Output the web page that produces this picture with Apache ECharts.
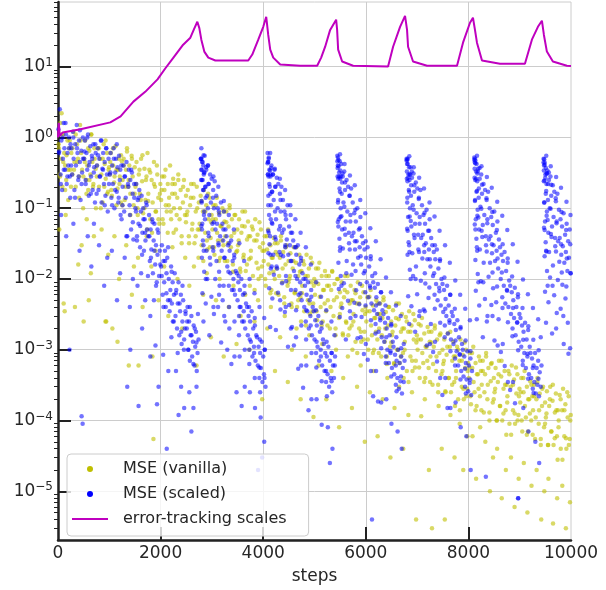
<!DOCTYPE html>
<html>
<head>
<meta charset="utf-8">
<script src="https://cdn.jsdelivr.net/npm/echarts@6/dist/echarts.min.js"></script>
<style>
  html, body { margin: 0; padding: 0; background: #ffffff; }
  #chart { width: 606px; height: 590px; }
</style>
</head>
<body>
<div id="chart"></div>
<script>
// Training steps vs. loss, log scale
const xTickValues = [0, 2000, 4000, 6000, 8000, 10000];
const yTickExponents = [-5, -4, -3, -2, -1, 0, 1];
const minorMultipliers = [2, 3, 4, 5, 6, 7, 8, 9];

// [step, MSE] for the plain model
const vanillaMse = [
[12,8e-1],[30,3e-1],[45,1.6],[60,5e-1],[85,2e-1],[100,1.1],[120,6e-1],[140,4e-1],[160,2.5e-1],[185,9e-1],[200,1.3e-1],[220,7e-1],[240,3.5e-1],[25,5e-2],[150,8e-2],[70,2.2],
[260,6e-1],[280,3e-1],[300,1.2],[320,4.5e-1],[345,2e-1],[370,8e-1],[390,5e-1],[410,2.8e-1],[430,1.5],[450,6e-1],[470,3.5e-1],[490,1e-1],[330,4e-3],[460,3e-2],[395,1.6e-2],
[510,5e-1],[530,9e-1],[550,2.5e-1],[570,4e-1],[590,1.8e-1],[610,6.5e-1],[630,3e-1],[650,1.1],[670,4.5e-1],[690,2.2e-1],[710,7e-1],[735,3.6e-1],[560,7e-2],[640,1.2e-2],[700,4e-2],
[760,4e-1],[780,7e-1],[800,2e-1],[820,5e-1],[845,3e-1],[870,1.2e-1],[890,8e-1],[910,4.2e-1],[930,2.6e-1],[955,6e-1],[975,1.7e-1],[995,3.8e-1],[850,5e-2],[940,2.5e-3],[980,2.2e-2],
[1010,3e-1],[1030,6e-1],[1050,1.5e-1],[1075,4e-1],[1095,2.3e-1],[1120,7.5e-1],[1140,3.5e-1],[1160,1.9e-1],[1185,5e-1],[1205,2.8e-1],[1225,1.2e-1],[1245,4.6e-1],[1100,4e-2],[1190,1e-2],[1060,2e-3],
[1260,2.5e-1],[1280,5e-1],[1300,1.3e-1],[1325,3.5e-1],[1345,7e-1],[1370,2e-1],[1390,4e-1],[1410,1.6e-1],[1435,5.5e-1],[1455,2.8e-1],[1475,1.1e-1],[1495,3.8e-1],[1330,3e-2],[1440,6e-3],[1480,1.5e-2],
[1510,2e-1],[1530,4.5e-1],[1550,1e-1],[1575,3e-1],[1595,1.6e-1],[1620,5e-1],[1640,2.4e-1],[1660,8.5e-2],[1685,3.6e-1],[1705,1.3e-1],[1725,2.8e-1],[1745,6e-1],[1560,2e-2],[1650,4e-3],[1730,4e-2],
[1760,1.6e-1],[1780,3.5e-1],[1800,7e-2],[1825,2.5e-1],[1845,1.2e-1],[1870,4.5e-1],[1890,2e-1],[1910,9e-2],[1935,3e-1],[1955,1.4e-1],[1975,6e-2],[1995,2.2e-1],[1820,1.5e-2],[1900,2.5e-2],[1960,5e-3],
[2010,1.3e-1],[2030,2.8e-1],[2055,6e-2],[2075,1.8e-1],[2095,3.5e-1],[2120,9e-2],[2140,2.2e-1],[2160,1.1e-1],[2185,4e-1],[2205,7e-2],[2225,1.6e-1],[2245,2.6e-1],[2070,1.5e-2],[2150,3e-3],[2230,2.8e-2],
[2260,1e-1],[2280,2.2e-1],[2300,5e-2],[2325,1.4e-1],[2345,3e-1],[2370,7e-2],[2390,1.8e-1],[2410,4e-2],[2435,1.2e-1],[2455,2.5e-1],[2475,8e-2],[2495,1.5e-1],[2330,1e-2],[2420,2e-3],[2480,2e-2],
[2510,8e-2],[2530,1.8e-1],[2550,4e-2],[2575,1.1e-1],[2595,2.2e-1],[2620,6e-2],[2640,1.4e-1],[2660,3.2e-2],[2685,9e-2],[2705,2e-1],[2725,5e-2],[2745,1.2e-1],[2560,8e-3],[2650,1.5e-2],[2700,6e-4],
[2760,6e-2],[2780,1.5e-1],[2800,3e-2],[2825,9e-2],[2845,1.8e-1],[2870,4.5e-2],[2890,1.1e-1],[2910,2.6e-2],[2935,7e-2],[2955,1.4e-1],[2975,3.8e-2],[2995,8e-2],[2830,6e-3],[2900,1.2e-2],[2980,1.5e-3],
[3010,5e-2],[3030,1.1e-1],[3050,2.2e-2],[3075,7e-2],[3095,1.4e-1],[3120,3.5e-2],[3140,8.5e-2],[3160,2e-2],[3185,5.5e-2],[3205,1e-1],[3225,3e-2],[3245,6.5e-2],[3080,5e-3],[3150,1e-2],[3230,8e-4],
[3260,4e-2],[3280,9e-2],[3300,1.8e-2],[3325,5.5e-2],[3345,1.1e-1],[3370,2.8e-2],[3390,7e-2],[3410,1.6e-2],[3435,4.5e-2],[3455,8e-2],[3475,2.4e-2],[3495,5e-2],[3330,4e-3],[3420,8e-3],[3480,1.2e-3],
[3510,3e-2],[3530,7e-2],[3550,1.4e-2],[3575,4.5e-2],[3595,9e-2],[3620,2.2e-2],[3640,5.5e-2],[3660,1.3e-2],[3685,3.6e-2],[3705,6.5e-2],[3725,1.9e-2],[3745,4e-2],[3560,3e-3],[3650,6e-3],[3730,1e-3],
[3760,2.5e-2],[3780,5.5e-2],[3800,1.1e-2],[3825,3.5e-2],[3845,7e-2],[3870,1.7e-2],[3890,4.2e-2],[3910,1e-2],[3935,2.8e-2],[3955,5e-2],[3975,1.5e-2],[3995,3.2e-2],[3830,2.5e-3],[3900,5e-3],[3980,2e-4],
[4010,1.8e-2],[4030,4e-2],[4050,8e-3],[4075,2.6e-2],[4095,5e-2],[4120,1.2e-2],[4140,3e-2],[4160,7e-3],[4185,2e-2],[4205,3.8e-2],[4225,1e-2],[4245,2.4e-2],[4080,2e-3],[4150,4e-3],[4230,5e-4],
[4260,1.4e-2],[4280,3.2e-2],[4300,6e-3],[4325,2e-2],[4345,4e-2],[4370,9e-3],[4390,2.4e-2],[4410,5.5e-3],[4435,1.6e-2],[4455,3e-2],[4475,8e-3],[4495,1.8e-2],[4330,1.5e-3],[4420,3e-3],[4480,3.5e-4],
[4510,1e-2],[4530,2.3e-2],[4550,4.5e-3],[4575,1.4e-2],[4595,2.8e-2],[4620,6.5e-3],[4640,1.7e-2],[4660,4e-3],[4685,1.1e-2],[4705,2.2e-2],[4725,5.5e-3],[4745,1.3e-2],[4560,1e-3],[4650,2e-3],[4730,2e-4],
[4760,8e-3],[4780,1.8e-2],[4800,3.5e-3],[4825,1.1e-2],[4845,2.2e-2],[4870,5e-3],[4890,1.4e-2],[4910,3.2e-3],[4935,9e-3],[4955,1.7e-2],[4975,4.5e-3],[4995,1e-2],[4830,8e-4],[4900,1.6e-3],[4980,1.12e-4],
[5010,6e-3],[5030,1.4e-2],[5050,2.6e-3],[5075,8.5e-3],[5095,1.7e-2],[5120,4e-3],[5140,1.1e-2],[5160,2.5e-3],[5185,7e-3],[5205,1.3e-2],[5225,3.5e-3],[5245,8e-3],[5080,6e-4],[5150,1.2e-3],[5230,2e-4],
[5260,5e-3],[5280,1.1e-2],[5300,2e-3],[5325,7e-3],[5345,1.3e-2],[5370,3e-3],[5390,8.5e-3],[5410,2e-3],[5435,5.5e-3],[5455,1e-2],[5475,2.8e-3],[5495,6.5e-3],[5330,5e-4],[5420,1e-3],[5480,8e-5],
[5510,4e-3],[5530,9e-3],[5550,1.7e-3],[5575,5.5e-3],[5595,1.1e-2],[5620,2.4e-3],[5640,6.5e-3],[5660,1.6e-3],[5685,4.5e-3],[5705,8e-3],[5725,2.2e-3],[5745,5e-3],[5560,4e-4],[5650,8e-4],[5730,1.5e-4],
[5760,3.2e-3],[5780,7e-3],[5800,1.3e-3],[5825,4.5e-3],[5845,9e-3],[5870,2e-3],[5890,5.5e-3],[5910,1.3e-3],[5935,3.6e-3],[5955,6.5e-3],[5975,1.8e-3],[5995,4e-3],[5830,3e-4],[5900,6e-4],[5980,5e-5],
[6010,2.5e-3],[6030,5.5e-3],[6050,1e-3],[6075,3.5e-3],[6095,7e-3],[6120,1.6e-3],[6140,4.2e-3],[6160,1e-3],[6185,2.8e-3],[6205,5e-3],[6225,1.4e-3],[6245,3.2e-3],[6080,2.5e-4],[6150,5e-4],[6230,6e-5],
[6260,2e-3],[6280,4.5e-3],[6300,8e-4],[6325,2.8e-3],[6345,5.5e-3],[6370,1.3e-3],[6390,3.4e-3],[6410,8e-4],[6435,2.2e-3],[6455,4e-3],[6475,1.1e-3],[6495,2.5e-3],[6330,2e-4],[6420,4e-4],[6480,3e-5],
[6510,1.6e-3],[6530,3.6e-3],[6550,6.5e-4],[6575,2.2e-3],[6595,4.5e-3],[6620,1e-3],[6640,2.7e-3],[6660,6.5e-4],[6685,1.8e-3],[6705,3.2e-3],[6725,9e-4],[6745,2e-3],[6560,1.5e-4],[6650,3e-4],[6730,4e-5],
[6760,1.3e-3],[6780,2.9e-3],[6800,5e-4],[6825,1.8e-3],[6845,3.5e-3],[6870,8e-4],[6890,2.2e-3],[6910,5e-4],[6935,1.4e-3],[6955,2.6e-3],[6975,7e-4],[6995,1.6e-3],[6830,1.2e-4],[6900,2.5e-4],[6980,4e-6],
[7010,1e-3],[7030,2.3e-3],[7050,4e-4],[7075,1.4e-3],[7095,2.8e-3],[7120,6.5e-4],[7140,1.7e-3],[7160,4e-4],[7185,1.1e-3],[7205,2.1e-3],[7225,5.5e-4],[7245,1.3e-3],[7080,1.15e-4],[7150,2e-4],[7230,2e-5],
[7260,8e-4],[7280,1.8e-3],[7300,3.2e-4],[7325,1.1e-3],[7345,2.2e-3],[7370,5e-4],[7390,1.4e-3],[7410,3.2e-4],[7435,9e-4],[7455,1.7e-3],[7475,4.5e-4],[7495,1e-3],[7290,3e-6],[7420,1.6e-4],[7480,4e-5],
[7510,6.3e-4],[7530,1.4e-3],[7550,2.6e-4],[7575,8.5e-4],[7595,1.7e-3],[7620,4e-4],[7640,1.1e-3],[7660,2.5e-4],[7685,7e-4],[7705,1.3e-3],[7725,3.5e-4],[7745,8e-4],[7540,4e-6],[7650,1.2e-4],[7730,3e-5],
[7760,5e-4],[7780,1.1e-3],[7800,2e-4],[7825,7e-4],[7845,1.4e-3],[7870,3e-4],[7890,8.5e-4],[7910,2e-4],[7935,5.5e-4],[7955,1e-3],[7975,2.8e-4],[7995,6.5e-4],[7830,9e-5],[7900,2e-5],[7980,6e-5],
[8010,4e-4],[8030,9e-4],[8050,1.7e-4],[8075,5.5e-4],[8095,1.1e-3],[8120,2.5e-4],[8140,6.5e-4],[8160,1.6e-4],[8185,4.5e-4],[8205,8e-4],[8225,2.2e-4],[8245,5e-4],[8080,6e-5],[8150,1.5e-5],[8230,8e-5],
[8260,3.2e-4],[8280,7e-4],[8300,1.3e-4],[8325,4.5e-4],[8345,9e-4],[8370,2e-4],[8390,5.5e-4],[8410,1.3e-4],[8435,3.6e-4],[8455,6.5e-4],[8475,1.8e-4],[8495,4e-4],[8330,5e-5],[8420,1e-5],[8480,3e-5],
[8510,2.5e-4],[8530,5.5e-4],[8550,1e-4],[8575,3.5e-4],[8595,7e-4],[8620,1.6e-4],[8640,4.2e-4],[8660,1e-4],[8685,2.8e-4],[8705,5e-4],[8725,1.4e-4],[8745,3.2e-4],[8560,4e-5],[8650,8e-6],[8730,2e-5],
[8760,2.2e-4],[8780,5e-4],[8800,9e-5],[8825,3e-4],[8845,6e-4],[8870,1.4e-4],[8890,3.8e-4],[8910,9e-5],[8935,2.4e-4],[8955,4.5e-4],[8975,1.2e-4],[8995,2.8e-4],[8830,3e-5],[8900,6e-6],[8980,1.5e-5],
[9010,1.8e-4],[9030,4e-4],[9050,7e-5],[9075,2.5e-4],[9095,5e-4],[9120,1.1e-4],[9140,3e-4],[9160,7e-5],[9185,2e-4],[9205,3.6e-4],[9225,1e-4],[9245,2.2e-4],[9080,2.5e-5],[9150,5e-6],[9230,1.2e-5],
[9260,1.4e-4],[9280,3.2e-4],[9300,5.5e-5],[9325,2e-4],[9345,4e-4],[9370,9e-5],[9390,2.4e-4],[9410,5.5e-5],[9435,1.6e-4],[9455,3e-4],[9475,8e-5],[9495,1.8e-4],[9330,2e-5],[9420,4e-6],[9480,1e-5],
[9510,1.1e-4],[9530,2.6e-4],[9550,4.5e-5],[9575,1.6e-4],[9595,3e-4],[9620,7e-5],[9640,1.9e-4],[9660,4.5e-5],[9685,1.3e-4],[9705,2.4e-4],[9725,6e-5],[9745,1.4e-4],[9560,1.5e-5],[9650,3.5e-6],[9730,8e-6],
[9760,1e-4],[9780,2.3e-4],[9800,4e-5],[9825,1.4e-4],[9845,2.8e-4],[9870,6e-5],[9890,1.7e-4],[9910,4e-5],[9935,1.1e-4],[9955,2.2e-4],[9975,5.5e-5],[9995,1.2e-4],[9830,1.2e-5],[9900,3e-6],[9980,7e-6],
[110,4.5e-3],[130,3.5e-3],[500,2.5e-3],[600,5e-3],[925,2.5e-3],[1160,1.3e-3],[1380,6e-4],[1570,6e-4],[1840,8e-4],[1860,5.5e-5],
[18,7e-1],[39,2.8e-1],[71,1.1],[102,4.5e-1],[139,1.8e-1],[166,5.6e-1],[198,3.5e-1],[228,9e-1],
[253,2e-1],[281,7e-1],[312,3.5e-1],[345,1.1],[378,4.5e-1],[411,1.4e-1],[440,9e-1],[494,2.8e-1],
[522,4.5e-1],[555,1.6e-1],[588,7e-1],[613,2.5e-1],[646,1.1],[683,2e-1],[715,5e-1],[739,1e-1],
[757,2.8e-1],[798,7e-1],[833,1e-1],[871,5e-1],[902,2e-1],[927,9e-1],[959,1.6e-1],[986,3.5e-1],
[1018,4.5e-1],[1039,1.8e-1],[1071,7e-1],[1102,2.8e-1],[1139,1.1e-1],[1166,3.5e-1],[1198,2.2e-1],[1228,5.6e-1],
[1253,1.1e-1],[1281,4e-1],[1312,2e-1],[1345,6.3e-1],[1378,2.5e-1],[1411,8e-2],[1440,5e-1],[1494,1.6e-1],
[1522,2.2e-1],[1555,8e-2],[1588,3.5e-1],[1613,1.3e-1],[1646,5.6e-1],[1683,1e-1],[1715,2.5e-1],[1739,5e-2],
[1757,1.26e-1],[1798,3.2e-1],[1833,4.5e-2],[1871,2.2e-1],[1902,9e-2],[1927,4e-1],[1959,7e-2],[1986,1.6e-1],
[2018,1.8e-1],[2039,7e-2],[2071,2.8e-1],[2102,1.1e-1],[2139,4.5e-2],[2166,1.4e-1],[2198,9e-2],[2228,2.2e-1],
[2253,4.5e-2],[2281,1.6e-1],[2312,8e-2],[2345,2.5e-1],[2378,1e-1],[2411,3.2e-2],[2440,2e-1],[2494,6.3e-2],
[2522,9e-2],[2555,3.2e-2],[2588,1.4e-1],[2613,5e-2],[2646,2.2e-1],[2683,4e-2],[2715,1e-1],[2739,2e-2],
[2757,5e-2],[2798,1.26e-1],[2833,1.8e-2],[2871,9e-2],[2902,3.5e-2],[2927,1.6e-1],[2959,2.8e-2],[2986,6.3e-2],
[3018,7e-2],[3039,2.8e-2],[3071,1.1e-1],[3102,4.5e-2],[3139,1.8e-2],[3166,5.6e-2],[3198,3.5e-2],[3228,9e-2],
[3253,1.8e-2],[3281,6.3e-2],[3312,3.2e-2],[3345,1e-1],[3378,4e-2],[3411,1.26e-2],[3440,8e-2],[3494,2.5e-2],
[3522,3.5e-2],[3555,1.26e-2],[3588,5.6e-2],[3613,2e-2],[3646,9e-2],[3683,1.6e-2],[3715,4e-2],[3739,8e-3],
[3757,2e-2],[3798,5e-2],[3833,7e-3],[3871,3.5e-2],[3902,1.4e-2],[3927,6.3e-2],[3959,1.1e-2],[3986,2.5e-2],
[4018,2.5e-2],[4039,1e-2],[4071,4e-2],[4102,1.6e-2],[4139,6.3e-3],[4166,2e-2],[4198,1.26e-2],[4228,3.2e-2],
[4253,6.3e-3],[4281,2.2e-2],[4312,1.1e-2],[4345,3.5e-2],[4378,1.4e-2],[4411,4.5e-3],[4440,2.8e-2],[4494,9e-3],
[4522,1.1e-2],[4555,4e-3],[4588,1.8e-2],[4613,6.3e-3],[4646,2.8e-2],[4683,5e-3],[4715,1.26e-2],[4739,2.5e-3],
[4757,6.3e-3],[4798,1.6e-2],[4833,2.2e-3],[4871,1.1e-2],[4902,4.5e-3],[4927,2e-2],[4959,3.5e-3],[4986,8e-3],
[5018,9e-3],[5039,3.5e-3],[5071,1.4e-2],[5102,5.6e-3],[5139,2.2e-3],[5166,7e-3],[5198,4.5e-3],[5228,1.1e-2],
[5253,2.2e-3],[5281,8e-3],[5312,4e-3],[5345,1.26e-2],[5378,5e-3],[5411,1.6e-3],[5440,1e-2],[5494,3.2e-3],
[5522,4.5e-3],[5555,1.6e-3],[5588,7e-3],[5613,2.5e-3],[5646,1.1e-2],[5683,2e-3],[5715,5e-3],[5739,1e-3],
[5757,2.5e-3],[5798,6.3e-3],[5833,9e-4],[5871,4.5e-3],[5902,1.8e-3],[5927,8e-3],[5959,1.4e-3],[5986,3.2e-3],
[6018,3.5e-3],[6039,1.4e-3],[6071,5.6e-3],[6102,2.2e-3],[6139,9e-4],[6166,2.8e-3],[6198,1.8e-3],[6228,4.5e-3],
[6253,9e-4],[6281,3.2e-3],[6312,1.6e-3],[6345,5e-3],[6378,2e-3],[6411,6.3e-4],[6440,4e-3],[6494,1.26e-3],
[6522,1.8e-3],[6555,6.3e-4],[6588,2.8e-3],[6613,1e-3],[6646,4.5e-3],[6683,8e-4],[6715,2e-3],[6739,4e-4],
[6757,1e-3],[6798,2.5e-3],[6833,3.5e-4],[6871,1.8e-3],[6902,7e-4],[6927,3.2e-3],[6959,5.6e-4],[6986,1.26e-3],
[7018,1.4e-3],[7039,5.6e-4],[7071,2.2e-3],[7102,9e-4],[7139,3.5e-4],[7166,1.1e-3],[7198,7e-4],[7228,1.8e-3],
[7253,3.5e-4],[7281,1.26e-3],[7312,6.3e-4],[7345,2e-3],[7378,8e-4],[7411,2.5e-4],[7440,1.6e-3],[7494,5e-4],
[7522,7e-4],[7555,2.5e-4],[7588,1.1e-3],[7613,4e-4],[7646,1.8e-3],[7683,3.2e-4],[7715,8e-4],[7739,1.6e-4],
[7757,4e-4],[7798,1e-3],[7833,1.4e-4],[7871,7e-4],[7902,2.8e-4],[7927,1.26e-3],[7959,2.2e-4],[7986,5e-4],
[8018,5.6e-4],[8039,2.2e-4],[8071,9e-4],[8102,3.5e-4],[8139,1.4e-4],[8166,4.5e-4],[8198,2.8e-4],[8228,7e-4],
[8253,1.4e-4],[8281,5e-4],[8312,2.5e-4],[8345,8e-4],[8378,3.2e-4],[8411,1e-4],[8440,6.3e-4],[8494,2e-4],
[8522,2.8e-4],[8555,1e-4],[8588,4.5e-4],[8613,1.6e-4],[8646,7e-4],[8683,1.26e-4],[8715,3.2e-4],[8739,6.3e-5],
[8757,1.8e-4],[8798,4.5e-4],[8833,6.3e-5],[8871,3.2e-4],[8902,1.26e-4],[8927,5.6e-4],[8959,1e-4],[8986,2.2e-4],
[9018,2.5e-4],[9039,1e-4],[9071,4e-4],[9102,1.6e-4],[9139,6.3e-5],[9166,2e-4],[9198,1.26e-4],[9228,3.2e-4],
[9253,6.3e-5],[9281,2.2e-4],[9312,1.1e-4],[9345,3.5e-4],[9378,1.4e-4],[9411,4.5e-5],[9440,2.8e-4],[9494,9e-5],
[9522,1.26e-4],[9555,4.5e-5],[9588,2e-4],[9613,7e-5],[9646,3.2e-4],[9683,5.6e-5],[9715,1.4e-4],[9739,2.8e-5],
[9757,8e-5],[9798,2e-4],[9833,2.8e-5],[9871,1.4e-4],[9902,5.6e-5],[9927,2.5e-4],[9959,4.5e-5],[9986,1e-4]
];

// [step, MSE] for the model trained with error-tracking scales
const scaledMse = [
[8,1.3],[20,6e-1],[35,2.5],[50,3e-1],[65,9e-1],[80,1.8e-1],[95,5e-1],[110,1.6],[125,7e-1],[140,3.5e-1],[155,1.1],[170,2.2e-1],[185,6e-1],[200,4e-1],[215,1],[230,2.8e-1],[245,8e-1],[60,8e-2],[160,4e-2],[225,1e-3],
[260,7e-1],[275,3e-1],[290,1.2],[305,5e-1],[320,1.8e-1],[335,8e-1],[350,4e-1],[365,1.5],[380,6e-1],[395,2.5e-1],[410,9e-1],[425,4.5e-1],[440,1.3e-1],[455,6.5e-1],[470,3.2e-1],[485,1],[300,6e-2],[420,2.5e-2],[460,1.15e-4],
[510,5e-1],[525,9e-1],[540,2.2e-1],[555,6e-1],[570,3.5e-1],[585,1.1],[600,1.5e-1],[615,4.5e-1],[630,7.5e-1],[645,2.8e-1],[660,5.5e-1],[675,1.8e-1],[690,8e-1],[705,3.8e-1],[720,1.2e-1],[735,6e-1],[580,4e-2],[650,1.5e-2],[700,6e-2],
[760,4e-1],[775,7e-1],[790,1.8e-1],[805,5e-1],[820,2.8e-1],[835,9e-1],[850,1.2e-1],[865,3.6e-1],[880,6e-1],[895,2.2e-1],[910,4.5e-1],[925,1.5e-1],[940,7e-1],[955,3e-1],[970,9e-2],[985,5e-1],[800,3e-2],[900,8e-3],[960,2e-2],
[1010,3e-1],[1025,6e-1],[1040,1.4e-1],[1055,4e-1],[1070,2.2e-1],[1085,7e-1],[1100,1e-1],[1115,3.2e-1],[1130,5e-1],[1145,1.7e-1],[1160,3.8e-1],[1175,1.2e-1],[1190,5.5e-1],[1205,2.5e-1],[1220,8e-2],[1235,4e-1],[1050,2.5e-2],[1150,5e-3],[1210,1.2e-2],
[1260,2e-1],[1275,4e-1],[1290,9e-2],[1305,2.8e-1],[1320,1.4e-1],[1335,4.5e-1],[1350,4e-2],[1365,2.2e-1],[1380,3.5e-1],[1395,1.1e-1],[1410,2.5e-1],[1425,5e-2],[1440,3.2e-1],[1455,1.6e-1],[1470,3.6e-2],[1485,2.2e-1],[1300,2e-2],[1400,4e-3],[1460,1e-2],
[1510,1e-1],[1525,2.2e-1],[1540,4e-2],[1555,1.3e-1],[1570,6e-2],[1585,1.8e-1],[1600,2.8e-2],[1615,9e-2],[1630,1.5e-1],[1645,4.5e-2],[1660,1e-1],[1675,2.5e-2],[1690,7e-2],[1705,3.5e-2],[1720,1.2e-1],[1735,5e-2],[1550,8e-3],[1640,2e-3],[1700,5e-3],[1620,1.2e-2],
[1760,4e-2],[1775,8e-2],[1790,1.8e-2],[1805,5e-2],[1820,2.6e-2],[1835,7e-2],[1850,1.2e-2],[1865,3.5e-2],[1880,6e-2],[1895,1.6e-2],[1910,3e-2],[1925,9e-3],[1940,2.2e-2],[1955,4.5e-2],[1970,1.1e-2],[1985,2.5e-2],[1800,3e-3],[1900,1.15e-3],[1960,3e-4],[1870,5e-3],
[2010,1.5e-2],[2025,3e-2],[2040,6e-3],[2055,1.8e-2],[2070,9e-3],[2085,2.5e-2],[2100,4e-3],[2115,1.2e-2],[2130,2e-2],[2145,5e-3],[2160,1e-2],[2175,3.5e-3],[2190,7e-3],[2205,1.5e-2],[2220,4.5e-3],[2235,9e-3],[2050,8.5e-4],[2150,5e-4],[2210,1.5e-3],[2120,4e-5],
[2260,6e-3],[2275,1.2e-2],[2290,3e-3],[2305,7e-3],[2320,2e-3],[2335,4.5e-3],[2350,9e-3],[2365,1.6e-3],[2380,3.5e-3],[2395,6e-3],[2410,1.2e-3],[2425,2.5e-3],[2440,5e-3],[2455,1e-3],[2470,2e-3],[2485,3.5e-3],[2300,5e-4],[2400,3e-4],[2460,1.5e-4],[2350,1.2e-4],
[2510,2e-3],[2525,4e-3],[2540,1e-3],[2555,2.5e-3],[2570,7e-4],[2585,1.6e-3],[2600,3e-3],[2615,8e-4],[2630,1.3e-3],[2645,2.2e-3],[2660,6e-4],[2675,1.1e-3],[2690,1.8e-3],[2705,5e-4],[2720,9e-4],[2740,1.4e-3],[2560,2.5e-4],[2640,1.5e-4],[2700,3e-4],[2600,7e-5],
[1350,3e-4],[1410,1e-3],[1570,1.6e-4],[1800,8e-4],[1930,1.7e-4],[480,9e-5],
[22,6.3e-1],[55,2.2e-1],[88,1],[113,3.5e-1],[146,1.6],[183,2.8e-1],[215,7e-1],[239,1.4e-1],
[257,4e-1],[298,1],[333,1.4e-1],[371,7e-1],[402,2.8e-1],[427,1.26],[459,2.2e-1],[486,5e-1],
[518,6.3e-1],[539,2.5e-1],[571,1],[602,4e-1],[639,1.6e-1],[666,5e-1],[698,3.2e-1],[728,8e-1],
[753,1.6e-1],[781,5.6e-1],[812,2.8e-1],[845,9e-1],[878,3.5e-1],[911,1.1e-1],[940,7e-1],[994,2.2e-1],
[1022,3.2e-1],[1055,1.1e-1],[1088,5e-1],[1113,1.8e-1],[1146,8e-1],[1183,1.4e-1],[1215,3.5e-1],[1239,7e-2],
[1257,1.1e-1],[1298,2.8e-1],[1333,4e-2],[1371,2e-1],[1402,8e-2],[1427,3.5e-1],[1459,6.3e-2],[1486,1.4e-1],
[1518,9e-2],[1539,3.5e-2],[1571,1.4e-1],[1602,5.6e-2],[1639,2.2e-2],[1666,7e-2],[1698,4.5e-2],[1728,1.1e-1],
[1753,1.1e-2],[1781,4e-2],[1812,2e-2],[1845,6.3e-2],[1878,2.5e-2],[1911,8e-3],[1940,5e-2],[1994,1.6e-2],
[2022,1.1e-2],[2055,4e-3],[2088,1.8e-2],[2113,6.3e-3],[2146,2.8e-2],[2183,5e-3],[2215,1.26e-2],[2239,2.5e-3],
[2257,2.5e-3],[2298,6.3e-3],[2333,9e-4],[2371,4.5e-3],[2402,1.8e-3],[2427,8e-3],[2459,1.4e-3],[2486,3.2e-3],
[2518,2.5e-3],[2539,1e-3],[2571,4e-3],[2602,1.6e-3],[2639,6.3e-4],[2666,2e-3],[2698,1.26e-3],[2728,3.2e-3],
[2785,5e-1],[2790,2.5e-1],[2795,7e-1],[2800,1.2e-1],[2805,3.5e-1],[2812,6e-2],[2820,4.5e-1],[2828,1.8e-1],[2835,3e-2],[2842,3e-1],[2850,9e-2],[2860,5.5e-1],[2870,2e-1],[2880,1e-2],[2878,1.4e-1],
[2890,3.8e-1],[2905,1.5e-1],[2920,4e-1],[2935,2.2e-1],[2950,8e-2],[2965,3e-1],[2980,1.2e-1],[2995,2.6e-1],[3010,6e-2],[3025,1.8e-1],[3040,1e-1],[3055,2.4e-1],[3070,5e-2],[2960,2e-2],[3030,4e-3],
[3085,1.5e-1],[3100,6e-2],[3115,1e-1],[3130,3e-2],[3145,8e-2],[3160,4e-2],[3175,1.2e-1],[3190,2.5e-2],[3205,6e-2],[3220,3.5e-2],[3235,9e-2],[3250,2e-2],[3265,5e-2],[3140,6e-3],[3240,3e-3],
[3285,4e-2],[3300,1.5e-2],[3315,3e-2],[3330,8e-3],[3345,2.5e-2],[3360,1.2e-2],[3375,3.5e-2],[3390,7e-3],[3405,1.8e-2],[3420,1e-2],[3435,2.2e-2],[3450,6e-3],[3465,1.3e-2],[3340,2e-3],[3440,8e-4],
[3485,1.2e-2],[3500,5e-3],[3515,9e-3],[3530,3e-3],[3545,7e-3],[3560,4e-3],[3575,1e-2],[3590,2.5e-3],[3605,6e-3],[3620,3.5e-3],[3635,8e-3],[3650,2e-3],[3665,4.5e-3],[3540,8e-4],[3640,3e-4],
[3685,4e-3],[3700,1.6e-3],[3715,3e-3],[3730,1e-3],[3745,2.5e-3],[3760,1.3e-3],[3775,3.5e-3],[3790,8e-4],[3805,2e-3],[3820,1.1e-3],[3835,2.8e-3],[3850,7e-4],[3865,1.6e-3],[3740,2.5e-4],[3840,1.5e-4],
[3880,1.5e-3],[3895,6e-4],[3910,1.1e-3],[3925,4e-4],[3940,9e-4],[3955,5.5e-4],[3970,1.3e-3],[3985,3.5e-4],[4000,8e-4],[4015,4.5e-4],[4030,1e-3],[4045,3e-4],[3950,1.1e-4],[4020,5e-5],[3980,3e-5],
[2798,5e-1],[2803,2.5e-1],[2797,1.26e-1],[2806,5e-2],
[2838,5.6e-1],[2843,3.2e-1],[2836,1.8e-1],[2845,8e-2],[2841,2.5e-2],
[2925,4e-1],[2935,2.2e-1],[2922,1e-1],[2940,4e-2],
[3030,2.8e-1],[3022,1.4e-1],[3038,6.3e-2],[3027,2.5e-2],
[3125,2e-1],[3135,9e-2],[3128,3.2e-2],[3140,1.26e-2],
[3232,1.26e-1],[3225,5e-2],[3238,2e-2],[3229,8e-3],
[3330,8e-2],[3338,3.2e-2],[3322,1.26e-2],[3335,4e-3],
[3428,5e-2],[3436,2e-2],[3425,7e-3],[3440,2.5e-3],
[3535,3.2e-2],[3522,1.1e-2],[3540,4e-3],[3528,1.6e-3],
[3628,1.8e-2],[3637,6.3e-3],[3622,2.5e-3],[3640,1e-3],
[3734,1e-2],[3725,4e-3],[3738,1.4e-3],[3729,6.3e-4],
[3830,6.3e-3],[3838,2.2e-3],[3822,9e-4],[3835,4e-4],
[3928,4e-3],[3935,1.4e-3],[3925,5.6e-4],[3940,2.5e-4],
[4020,2.8e-3],[4030,1e-3],[4025,4e-4],
[4085,6e-1],[4090,3e-1],[4095,4.5e-1],[4100,1.5e-1],[4107,5e-1],[4114,8e-2],[4120,3.5e-1],[4128,2e-1],[4135,4e-2],[4142,2.8e-1],[4150,1.1e-1],[4160,4e-1],[4170,1.7e-1],[4165,1.5e-2],[4178,6e-2],
[4190,3e-1],[4205,1.3e-1],[4220,3.5e-1],[4235,2e-1],[4250,7e-2],[4265,2.7e-1],[4280,1e-1],[4295,2.2e-1],[4310,5e-2],[4325,1.6e-1],[4340,9e-2],[4355,2e-1],[4370,4.5e-2],[4260,1.5e-2],[4330,5e-3],
[4385,1.3e-1],[4400,5e-2],[4415,9e-2],[4430,2.8e-2],[4445,7e-2],[4460,3.6e-2],[4475,1.1e-1],[4490,2.2e-2],[4505,5.5e-2],[4520,3e-2],[4535,8e-2],[4550,1.8e-2],[4565,4.5e-2],[4440,4e-3],[4540,2e-3],
[4585,3.5e-2],[4600,1.3e-2],[4615,2.8e-2],[4630,7e-3],[4645,2.2e-2],[4660,1e-2],[4675,3e-2],[4690,6e-3],[4705,1.6e-2],[4720,9e-3],[4735,2e-2],[4750,5e-3],[4765,1.2e-2],[4640,1.5e-3],[4740,6e-4],
[4785,1e-2],[4800,4e-3],[4815,8e-3],[4830,2.5e-3],[4845,6e-3],[4860,3.5e-3],[4875,9e-3],[4890,2e-3],[4905,5e-3],[4920,3e-3],[4935,7e-3],[4950,1.6e-3],[4965,4e-3],[4840,6e-4],[4940,2e-4],
[4985,3.5e-3],[5000,1.4e-3],[5015,2.6e-3],[5030,9e-4],[5045,2.2e-3],[5060,1.1e-3],[5075,3e-3],[5090,7e-4],[5105,1.8e-3],[5120,1e-3],[5135,2.4e-3],[5150,6e-4],[5165,1.4e-3],[5040,2e-4],[5140,8.7e-5],
[5180,1.2e-3],[5195,5e-4],[5210,9e-4],[5225,3.5e-4],[5240,8e-4],[5255,4.5e-4],[5270,1.1e-3],[5285,3e-4],[5300,7e-4],[5315,4e-4],[5330,9e-4],[5345,2.5e-4],[5360,6e-4],[5380,4e-4],[5400,8e-4],[5260,8e-5],[5350,4e-5],
[4097,4.5e-1],[4104,2.8e-1],[4099,1.1e-1],[4108,4.5e-2],
[4136,6e-1],[4144,3e-1],[4139,1.6e-1],[4147,7e-2],[4141,2.2e-2],
[4226,3.6e-1],[4238,2e-1],[4231,9e-2],[4244,3.6e-2],
[4325,2.6e-1],[4337,1.3e-1],[4330,5.6e-2],[4343,2.2e-2],
[4427,1.8e-1],[4436,8e-2],[4431,3e-2],[4444,1.1e-2],
[4528,1.1e-1],[4539,4.5e-2],[4534,1.8e-2],[4542,7e-3],
[4627,7e-2],[4636,2.8e-2],[4630,1.1e-2],[4641,3.6e-3],
[4729,4.5e-2],[4738,1.8e-2],[4726,6.3e-3],[4743,2.2e-3],
[4831,2.8e-2],[4826,1e-2],[4840,3.6e-3],[4836,1.4e-3],
[4929,1.6e-2],[4938,5.6e-3],[4925,2.2e-3],[4941,9e-4],
[5033,9e-3],[5027,3.6e-3],[5040,1.3e-3],[5036,5.6e-4],
[5128,5.6e-3],[5137,2e-3],[5124,8e-4],[5140,3.6e-4],
[5230,3.6e-3],[5236,1.3e-3],[5226,5e-4],[5241,2.2e-4],
[5330,2.5e-3],[5338,9e-4],[5333,3.6e-4],[5390,1.6e-3],[5395,6e-4],
[5445,5.5e-1],[5450,2.8e-1],[5455,4e-1],[5460,1.3e-1],[5467,4.8e-1],[5474,7e-2],[5480,3.2e-1],[5488,1.9e-1],[5495,2.5e-2],[5502,2.6e-1],[5510,1e-1],[5520,4.2e-1],[5530,1.6e-1],[5525,8e-3],[5538,5e-2],
[5550,2.8e-1],[5565,1.2e-1],[5580,3.3e-1],[5595,1.8e-1],[5610,6.5e-2],[5625,2.5e-1],[5640,9e-2],[5655,2e-1],[5670,4.5e-2],[5685,1.5e-1],[5700,8e-2],[5715,1.9e-1],[5730,4e-2],[5620,1.2e-2],[5690,3.5e-3],
[5745,1.2e-1],[5760,4.5e-2],[5775,8.5e-2],[5790,2.6e-2],[5805,6.5e-2],[5820,3.4e-2],[5835,1e-1],[5850,2e-2],[5865,5e-2],[5880,2.8e-2],[5895,7.5e-2],[5910,1.6e-2],[5925,4e-2],[5800,3e-3],[5900,1.5e-3],
[5945,3.2e-2],[5960,1.2e-2],[5975,2.6e-2],[5990,6.5e-3],[6005,2e-2],[6020,9e-3],[6035,2.8e-2],[6050,5.5e-3],[6065,1.5e-2],[6080,8e-3],[6095,1.9e-2],[6110,4.5e-3],[6125,1.1e-2],[6000,1.2e-3],[6100,5e-4],
[6145,9e-3],[6160,3.6e-3],[6175,7.5e-3],[6190,2.3e-3],[6205,5.5e-3],[6220,3.2e-3],[6235,8.5e-3],[6250,1.8e-3],[6265,4.5e-3],[6280,2.8e-3],[6295,6.5e-3],[6310,1.5e-3],[6325,3.6e-3],[6200,5e-4],[6300,1.8e-4],
[6345,3.2e-3],[6360,1.3e-3],[6375,2.4e-3],[6390,8e-4],[6405,2e-3],[6420,1e-3],[6435,2.8e-3],[6450,6.5e-4],[6465,1.6e-3],[6480,9e-4],[6495,2.2e-3],[6510,5.5e-4],[6525,1.3e-3],[6400,2e-4],[6500,9e-5],
[6540,1.1e-3],[6555,4.5e-4],[6570,8.5e-4],[6585,3.2e-4],[6600,7e-4],[6615,4e-4],[6630,1e-3],[6645,2.8e-4],[6660,6.5e-4],[6675,3.6e-4],[6690,8e-4],[6705,2.4e-4],[6720,5.5e-4],[6740,3.5e-4],[6755,7e-4],[6620,7e-5],[6700,4e-5],
[5458,5.2e-1],[5463,2.6e-1],[5457,1.2e-1],[5466,5.5e-2],
[5497,5.8e-1],[5503,3.4e-1],[5496,1.7e-1],[5505,7.5e-2],[5501,2.8e-2],
[5586,4.2e-1],[5595,2.3e-1],[5582,1.05e-1],[5600,4.2e-2],
[5690,2.9e-1],[5682,1.5e-1],[5698,6.5e-2],[5687,2.6e-2],
[5785,2.1e-1],[5795,9.5e-2],[5788,3.4e-2],[5800,1.3e-2],
[5892,1.3e-1],[5885,5.2e-2],[5898,2.1e-2],[5889,8.5e-3],
[5990,8.5e-2],[5998,3.4e-2],[5982,1.3e-2],[5995,4.2e-3],
[6088,5.2e-2],[6096,2.1e-2],[6085,7.5e-3],[6100,2.6e-3],
[6195,3.4e-2],[6182,1.2e-2],[6200,4.2e-3],[6188,1.7e-3],
[6288,1.9e-2],[6297,6.5e-3],[6282,2.6e-3],[6300,1.05e-3],
[6394,1.05e-2],[6385,4.2e-3],[6398,1.5e-3],[6389,6.5e-4],
[6490,6.5e-3],[6498,2.3e-3],[6482,9.5e-4],[6495,4.2e-4],
[6588,4.2e-3],[6595,1.5e-3],[6585,6e-4],[6600,2.6e-4],
[6680,3e-3],[6690,1.05e-3],[6685,4.2e-4],[6740,1.2e-3],
[6795,5e-1],[6800,2.6e-1],[6805,4.2e-1],[6810,1.4e-1],[6817,5e-1],[6824,7.5e-2],[6830,3e-1],[6838,1.8e-1],[6845,3e-2],[6852,2.5e-1],[6860,1e-1],[6870,3.8e-1],[6880,1.5e-1],[6875,1e-2],[6888,5.5e-2],
[6900,2.7e-1],[6915,1.1e-1],[6930,3.1e-1],[6945,1.7e-1],[6960,6e-2],[6975,2.3e-1],[6990,8.5e-2],[7005,1.9e-1],[7020,4.2e-2],[7035,1.4e-1],[7050,7.5e-2],[7065,1.8e-1],[7080,3.8e-2],[6970,1e-2],[7040,3e-3],
[7095,1.1e-1],[7110,4.2e-2],[7125,8e-2],[7140,2.4e-2],[7155,6e-2],[7170,3.2e-2],[7185,9.5e-2],[7200,1.9e-2],[7215,4.8e-2],[7230,2.6e-2],[7245,7e-2],[7260,1.5e-2],[7275,3.8e-2],[7150,3.5e-3],[7250,1.2e-3],
[7295,3e-2],[7310,1.1e-2],[7325,2.4e-2],[7340,6e-3],[7355,1.9e-2],[7370,8.5e-3],[7385,2.6e-2],[7400,5e-3],[7415,1.4e-2],[7430,7.5e-3],[7445,1.8e-2],[7460,4.2e-3],[7475,1e-2],[7350,1.3e-3],[7450,4e-4],
[7495,8.5e-3],[7510,3.4e-3],[7525,7e-3],[7540,2.2e-3],[7555,5.2e-3],[7570,3e-3],[7585,8e-3],[7600,1.7e-3],[7615,4.2e-3],[7630,2.6e-3],[7645,6e-3],[7660,1.4e-3],[7675,3.4e-3],[7550,4e-4],[7650,1.5e-4],
[7695,3e-3],[7710,1.2e-3],[7725,2.3e-3],[7740,7.5e-4],[7755,1.9e-3],[7770,9.5e-4],[7785,2.6e-3],[7800,6e-4],[7815,1.5e-3],[7830,8.5e-4],[7845,2e-3],[7860,5e-4],[7875,1.2e-3],[7750,1.8e-4],[7850,8e-5],
[7890,1e-3],[7905,4.2e-4],[7920,8e-4],[7935,3e-4],[7950,6.5e-4],[7965,3.8e-4],[7980,9.5e-4],[7995,2.6e-4],[8010,6e-4],[8025,3.4e-4],[8040,7.5e-4],[8055,2.3e-4],[8070,5e-4],[7960,6e-5],[8045,2e-5],
[6808,4.8e-1],[6813,2.4e-1],[6807,1.2e-1],[6816,4.8e-2],
[6848,5.4e-1],[6853,3e-1],[6846,1.7e-1],[6855,7.6e-2],[6851,2.4e-2],
[6935,3.8e-1],[6945,2.1e-1],[6932,9.5e-2],[6950,3.8e-2],
[7040,2.7e-1],[7032,1.35e-1],[7048,6e-2],[7037,2.4e-2],
[7135,1.9e-1],[7145,8.6e-2],[7138,3e-2],[7150,1.2e-2],
[7242,1.2e-1],[7235,4.8e-2],[7248,1.9e-2],[7239,7.6e-3],
[7340,7.6e-2],[7348,3e-2],[7332,1.2e-2],[7345,3.8e-3],
[7438,4.8e-2],[7446,1.9e-2],[7435,6.7e-3],[7450,2.4e-3],
[7545,3e-2],[7532,1.05e-2],[7550,3.8e-3],[7538,1.5e-3],
[7638,1.7e-2],[7647,6e-3],[7632,2.4e-3],[7650,9.5e-4],
[7744,9.5e-3],[7735,3.8e-3],[7748,1.35e-3],[7739,6e-4],
[7840,6e-3],[7848,2.1e-3],[7832,8.6e-4],[7845,3.8e-4],
[7938,3.8e-3],[7945,1.35e-3],[7935,5.4e-4],[7950,2.4e-4],
[8030,2.6e-3],[8040,9.5e-4],[8035,3.8e-4],
[8115,5.2e-1],[8120,2.7e-1],[8125,4.4e-1],[8130,1.3e-1],[8137,4.7e-1],[8144,7e-2],[8150,3.3e-1],[8158,1.7e-1],[8165,2.8e-2],[8172,2.4e-1],[8180,9.5e-2],[8190,3.6e-1],[8200,1.4e-1],[8195,9e-3],[8208,5e-2],
[8220,2.6e-1],[8235,1.05e-1],[8250,3e-1],[8265,1.6e-1],[8280,5.8e-2],[8295,2.2e-1],[8310,8e-2],[8325,1.8e-1],[8340,4e-2],[8355,1.3e-1],[8370,7e-2],[8385,1.7e-1],[8400,3.6e-2],[8290,9e-3],[8360,2.5e-3],
[8415,1e-1],[8430,4e-2],[8445,7.5e-2],[8460,2.3e-2],[8475,5.8e-2],[8490,3e-2],[8505,9e-2],[8520,1.8e-2],[8535,4.5e-2],[8550,2.5e-2],[8565,6.5e-2],[8580,1.4e-2],[8595,3.6e-2],[8470,3e-3],[8570,1.15e-3],
[8615,2.8e-2],[8630,1e-2],[8645,2.2e-2],[8660,5.5e-3],[8675,1.8e-2],[8690,8e-3],[8705,2.4e-2],[8720,4.5e-3],[8735,1.3e-2],[8750,7e-3],[8765,1.7e-2],[8780,4e-3],[8795,9.5e-3],[8670,1.2e-3],[8770,3.5e-4],
[8815,8e-3],[8830,3.2e-3],[8845,6.5e-3],[8860,2e-3],[8875,5e-3],[8890,2.8e-3],[8905,7.5e-3],[8920,1.6e-3],[8935,4e-3],[8950,2.4e-3],[8965,5.5e-3],[8980,1.3e-3],[8995,3.2e-3],[8870,3.5e-4],[8970,8e-6],
[9015,2.8e-3],[9030,1.1e-3],[9045,2.2e-3],[9060,7e-4],[9075,1.8e-3],[9090,9e-4],[9105,2.4e-3],[9120,5.5e-4],[9135,1.4e-3],[9150,8e-4],[9165,1.9e-3],[9180,4.5e-4],[9195,1.1e-3],[9070,1.5e-4],[9170,7e-5],
[9210,9e-4],[9225,4e-4],[9240,7.5e-4],[9255,2.8e-4],[9270,6e-4],[9285,3.5e-4],[9300,9e-4],[9315,2.4e-4],[9330,5.5e-4],[9345,3.2e-4],[9360,7e-4],[9375,2.2e-4],[9390,4.8e-4],[9410,3e-4],[9425,6e-4],[9305,5e-5],[9380,2.5e-5],
[8128,5e-1],[8133,2.5e-1],[8127,1.26e-1],[8136,5e-2],
[8168,5.5e-1],[8173,3.1e-1],[8166,1.75e-1],[8175,7.8e-2],[8171,2.5e-2],
[8255,3.9e-1],[8265,2.15e-1],[8252,9.8e-2],[8270,3.9e-2],
[8360,2.75e-1],[8352,1.38e-1],[8368,6.1e-2],[8357,2.45e-2],
[8455,1.95e-1],[8465,8.8e-2],[8458,3.1e-2],[8470,1.23e-2],
[8562,1.23e-1],[8555,4.9e-2],[8568,1.95e-2],[8559,7.8e-3],
[8660,7.8e-2],[8668,3.1e-2],[8652,1.23e-2],[8665,3.9e-3],
[8758,4.9e-2],[8766,1.95e-2],[8755,6.8e-3],[8770,2.45e-3],
[8865,3.1e-2],[8852,1.08e-2],[8870,3.9e-3],[8858,1.55e-3],
[8958,1.75e-2],[8967,6.1e-3],[8952,2.45e-3],[8970,9.8e-4],
[9064,9.8e-3],[9055,3.9e-3],[9068,1.38e-3],[9059,6.1e-4],
[9160,6.1e-3],[9168,2.15e-3],[9152,8.8e-4],[9165,3.9e-4],
[9258,3.9e-3],[9265,1.38e-3],[9255,5.5e-4],[9270,2.45e-4],
[9360,2.7e-3],[9370,9.8e-4],[9365,3.9e-4],[9410,1.5e-3],
[9465,5e-1],[9470,2.4e-1],[9475,4e-1],[9480,1.2e-1],[9487,4.4e-1],[9494,6.5e-2],[9500,3e-1],[9508,1.6e-1],[9515,2.5e-2],[9522,2.2e-1],[9530,9e-2],[9540,3.4e-1],[9550,1.3e-1],[9545,8e-3],[9558,4.5e-2],
[9570,2.5e-1],[9585,1e-1],[9600,2.8e-1],[9615,1.5e-1],[9630,5.5e-2],[9645,2.1e-1],[9660,7.5e-2],[9675,1.7e-1],[9690,3.8e-2],[9705,1.25e-1],[9720,6.5e-2],[9735,1.6e-1],[9750,3.4e-2],[9640,8e-3],[9710,2e-3],
[9765,9.5e-2],[9780,3.8e-2],[9795,7e-2],[9810,2.2e-2],[9825,5.5e-2],[9840,2.9e-2],[9855,8.5e-2],[9870,1.7e-2],[9885,4.2e-2],[9900,2.4e-2],[9915,6e-2],[9930,1.3e-2],[9945,3.4e-2],[9960,2e-2],[9975,5e-2],[9990,1.2e-2],[9850,3e-3],[9950,8.8e-4],
[9478,4.9e-1],[9483,2.45e-1],[9477,1.2e-1],[9486,4.9e-2],
[9518,5.5e-1],[9523,3.1e-1],[9516,1.75e-1],[9525,7.8e-2],[9521,2.45e-2],
[9605,3.9e-1],[9615,2.15e-1],[9602,9.8e-2],[9620,3.9e-2],
[9710,2.75e-1],[9702,1.38e-1],[9718,6.1e-2],[9707,2.45e-2],
[9805,1.95e-1],[9815,8.8e-2],[9808,3.1e-2],[9820,1.23e-2],
[9912,1.23e-1],[9905,4.9e-2],[9918,1.95e-2],[9909,7.8e-3],
[9990,8e-2],[9985,3.1e-2],[9995,1.2e-2],
[3900,2e-5],[5300,2.5e-5],[6120,4e-6],[8340,1.6e-5],[8970,8e-6],
[2795,5.6e-2],[2805,2e-2],[2815,6.3e-3],[2825,3.5e-2],[2835,2.5e-3],[2850,1.26e-2],[2865,7e-2],[2880,4.5e-3],[2895,2.5e-2],[2910,1e-2],[2930,4.5e-2],[2950,1.6e-3],[2970,1.6e-2],[2990,5.6e-3],[3015,2.8e-2],[3040,3.2e-3],[3065,1e-2],[3090,1.8e-2],[3120,4e-3],[3150,8e-3],[3180,1.26e-3],[3210,5e-3],[3260,2.5e-3],[3300,1e-3],[3380,6.3e-4],[3480,2.5e-4],[3580,1.6e-4],
[2785,5e-1],[2792,3.5e-1],[2808,4.5e-1],[2820,2.5e-1],[2832,4e-1],[2855,3.2e-1],[2875,2e-1],[2890,3.5e-1],
[4097,4.8e-2],[4103,2.3e-2],[4117,7.4e-3],[4123,3.1e-2],[4137,2.1e-3],[4148,1.4e-2],[4168,6.2e-2],[4178,5.3e-3],[4197,2.2e-2],[4208,1.15e-2],[4233,3.9e-2],[4247,1.9e-3],[4272,1.4e-2],[4288,6.4e-3],[4318,2.4e-2],[4337,3.7e-3],[4368,8.7e-3],[4388,2.1e-2],[4423,3.4e-3],[4447,9.3e-3],[4483,1.1e-3],[4507,4.3e-3],[4562,2.1e-3],[4598,1.15e-3],[4683,5.4e-4],[4778,2.9e-4],[4883,1.4e-4],
[4084,4.3e-1],[4093,3e-1],[4109,5.2e-1],[4119,2.2e-1],[4133,3.4e-1],[4153,3.7e-1],[4176,1.7e-1],[4188,3e-1],
[5454,6.4e-2],[5466,1.7e-2],[5474,7.2e-3],[5486,3.7e-2],[5493,2.9e-3],[5512,1.1e-2],[5524,7.7e-2],[5541,3.9e-3],[5553,2.7e-2],[5572,8.7e-3],[5588,5.1e-2],[5611,1.4e-3],[5628,1.8e-2],[5652,4.9e-3],[5673,3.2e-2],[5702,2.8e-3],[5723,1.15e-2],[5752,1.6e-2],[5778,4.6e-3],[5812,6.9e-3],[5838,1.45e-3],[5872,4.4e-3],[5918,2.9e-3],[5963,8.7e-4],[6038,7.2e-4],[6143,2.2e-4],[6238,1.85e-4],
[5446,4.6e-1],[5451,3.7e-1],[5469,3.9e-1],[5478,2.8e-1],[5493,4.6e-1],[5513,2.8e-1],[5536,2.3e-1],[5548,3.1e-1],
[6806,5.1e-2],[6814,2.2e-2],[6826,5.7e-3],[6834,3.3e-2],[6847,2.3e-3],[6858,1.35e-2],[6876,6.6e-2],[6889,4.1e-3],[6906,2.3e-2],[6921,1.1e-2],[6939,4.2e-2],[6962,1.8e-3],[6978,1.5e-2],[7001,6.1e-3],[7024,2.6e-2],[7052,3.5e-3],[7073,9.4e-3],[7102,1.95e-2],[7128,3.7e-3],[7161,8.6e-3],[7188,1.15e-3],[7222,5.4e-3],[7268,2.3e-3],[7312,9.3e-4],[7388,6.8e-4],[7493,2.3e-4],[7592,1.5e-4],
[6794,4.7e-1],[6801,3.3e-1],[6818,4.2e-1],[6826,2.7e-1],[6843,3.8e-1],[6866,3e-1],[6884,2.1e-1],[6897,3.3e-1],
[8124,5.9e-2],[8136,1.85e-2],[8144,6.8e-3],[8156,3.7e-2],[8163,2.7e-3],[8182,1.17e-2],[8194,7.4e-2],[8211,4.2e-3],[8223,2.6e-2],[8242,9.3e-3],[8258,4.8e-2],[8281,1.5e-3],[8298,1.7e-2],[8322,5.2e-3],[8343,3e-2],[8372,3e-3],[8393,1.07e-2],[8422,1.7e-2],[8448,4.3e-3],[8482,7.4e-3],[8508,1.35e-3],[8542,4.7e-3],[8588,2.7e-3],[8633,9.3e-4],[8708,5.9e-4],[8813,2.7e-4],[8908,1.75e-4],
[8114,4.8e-1],[8121,3.6e-1],[8136,4.3e-1],[8148,2.6e-1],[8160,4.2e-1],[8183,3.3e-1],[8203,1.9e-1],[8218,3.7e-1],
[9474,5.3e-2],[9486,2.1e-2],[9494,6.6e-3],[9506,3.3e-2],[9513,2.4e-3],[9532,1.3e-2],[9544,6.8e-2],[9561,4.7e-3],[9573,2.4e-2],[9592,1.05e-2],[9608,4.3e-2],[9631,1.7e-3],[9648,1.55e-2],[9672,5.9e-3],[9693,2.9e-2],[9722,3.3e-3],[9743,9.7e-3],[9772,1.75e-2],[9798,3.8e-3],[9832,8.3e-3],[9858,1.2e-3],[9892,5.3e-3],[9938,2.4e-3],[9983,1.05e-3],
[9464,4.4e-1],[9471,3.4e-1],[9486,4.1e-1],[9498,2.7e-1],[9510,3.7e-1],[9533,3.1e-1],[9553,2.2e-1],[9568,3.2e-1]
];

// [step, scale] of the error-tracking scales
const errorTrackingScale = [
[0,1.0],[15,1.6],[35,1.05],[90,1.17],[440,1.3],[1020,1.63],[1220,1.98],[1470,3.2],[1700,4.4],[1940,6.6],
[2090,9.4],[2250,13.4],[2440,20.4],[2580,25.6],[2660,35],[2716,43],[2755,35],[2794,24],[2852,16.3],[2930,13.4],
[3067,12.2],[3709,12.2],[3787,14.8],[3904,24],[4001,36.5],[4059,50.6],[4098,28],[4137,17.4],[4196,13.4],[4332,10.7],
[4721,10.3],[5052,10.3],[5130,13.4],[5208,19.1],[5305,33],[5422,46],[5441,33],[5461,17.4],[5539,11.8],[5753,10.3],
[6434,10],[6532,19.1],[6668,36.5],[6765,52],[6804,33],[6824,19.1],[6921,11.8],[7194,10.3],[7778,10.3],[7895,21.8],
[8031,41.7],[8089,49],[8128,33],[8167,21.8],[8265,12.2],[8615,11],[9102,11],[9238,24],[9355,36.5],[9433,44.5],
[9472,28],[9530,16.3],[9647,11.8],[9920,10.3],[10000,10.2]
];

const FONT = 'DejaVu Sans';
const TEXT = '#262626';
const Y_MIN = 2.05e-6;
const Y_MAX = 81.8;

const majorY = yTickExponents.map(e => Math.pow(10, e));
const minorY = [];
for (let e = -6; e <= 1; e++) {
  for (const m of minorMultipliers) {
    const v = m * Math.pow(10, e);
    if (v > Y_MIN && v < Y_MAX) minorY.push(v);
  }
}

function powerLabel(v) {
  const e = Math.round(Math.log10(v));
  const exp = e < 0 ? '\u2212' + (-e) : String(e);
  return '{b|10}{s|' + exp + '}';
}

const chart = echarts.init(document.getElementById('chart'), null, { renderer: 'canvas' });
chart.setOption({
  animation: false,
  backgroundColor: '#ffffff',
  textStyle: { fontFamily: FONT },
  grid: {
    left: 58, right: 35, top: 2, bottom: 47,
    show: true, borderColor: '#cccccc', borderWidth: 1, backgroundColor: 'transparent'
  },
  legend: {
    orient: 'vertical',
    left: 67, top: 454,
    itemWidth: 36, itemHeight: 6, itemGap: 7,
    padding: [6, 22, 8, 5],
    backgroundColor: 'rgba(255,255,255,0.8)',
    borderColor: '#cccccc', borderWidth: 1, borderRadius: 4,
    z: 10,
    itemStyle: { opacity: 1 },
    textStyle: { fontFamily: FONT, fontSize: 16, color: TEXT, lineHeight: 18, padding: [0, 0, 0, 10] },
    data: [
      { name: 'MSE (vanilla)', icon: 'circle' },
      { name: 'MSE (scaled)', icon: 'circle' },
      { name: 'error-tracking scales', icon: 'path://M0,0H36V2H0Z', itemStyle: { color: '#BF00BF' } }
    ]
  },
  xAxis: {
    type: 'value', min: 0, max: 10000, interval: 2000,
    name: 'steps', nameLocation: 'middle', nameGap: 28,
    nameTextStyle: { fontFamily: FONT, fontSize: 17, color: TEXT },
    axisLine: { show: true, lineStyle: { color: '#222222', width: 2.5 } },
    axisTick: { show: true, inside: true, length: 13, lineStyle: { color: '#222222', width: 2 },
                customValues: xTickValues.slice(1, -1) },
    axisLabel: { fontFamily: FONT, fontSize: 17, color: TEXT, margin: 5, customValues: xTickValues,
                 formatter: v => String(v) },
    splitLine: { show: true, lineStyle: { color: '#cccccc', width: 1 } }
  },
  yAxis: [
    {
      type: 'log', logBase: 10, min: Y_MIN, max: Y_MAX,
      axisLine: { show: true, lineStyle: { color: '#222222', width: 2.5 } },
      axisTick: { show: true, inside: true, length: 13, lineStyle: { color: '#222222', width: 2 },
                  customValues: majorY },
      axisLabel: {
        customValues: majorY, margin: 5, formatter: powerLabel,
        rich: {
          b: { fontFamily: FONT, fontSize: 17, color: TEXT, lineHeight: 20 },
          s: { fontFamily: FONT, fontSize: 12, color: TEXT, lineHeight: 12, verticalAlign: 'top' }
        }
      },
      splitLine: { show: true, lineStyle: { color: '#cccccc', width: 1 } }
    },
    {
      type: 'log', logBase: 10, min: Y_MIN, max: Y_MAX, position: 'left',
      axisLine: { show: false },
      axisTick: { show: true, inside: false, length: 4, lineStyle: { color: '#222222', width: 1 },
                  customValues: minorY },
      axisLabel: { show: false },
      splitLine: { show: false }
    }
  ],
  series: [
    {
      name: 'MSE (vanilla)', type: 'scatter', data: vanillaMse, symbol: 'circle', symbolSize: 4.5,
      itemStyle: { color: '#BFBF00', opacity: 0.6 }, z: 2, silent: true
    },
    {
      name: 'MSE (scaled)', type: 'scatter', data: scaledMse, symbol: 'circle', symbolSize: 4.5,
      itemStyle: { color: '#0000FF', opacity: 0.55 }, z: 3, silent: true
    },
    {
      name: 'error-tracking scales', type: 'line', data: errorTrackingScale, symbol: 'none',
      lineStyle: { color: '#BF00BF', width: 2 }, itemStyle: { color: '#BF00BF' }, z: 4, silent: true
    }
  ]
});
</script>
</body>
</html>
